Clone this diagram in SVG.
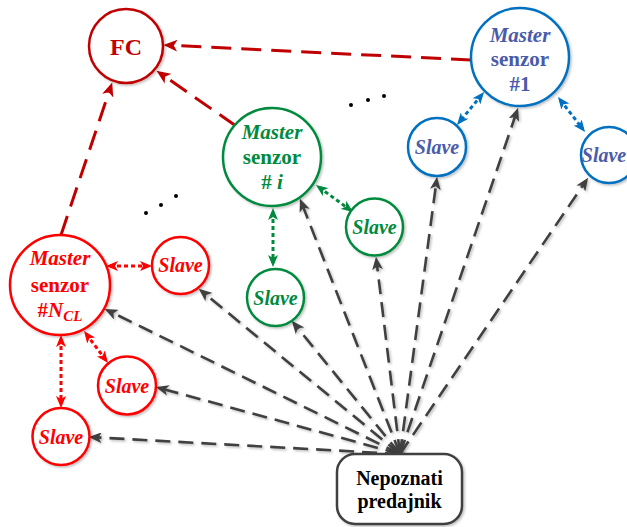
<svg xmlns="http://www.w3.org/2000/svg" width="627" height="527" viewBox="0 0 627 527">
<style>
  text { font-family: "Liberation Serif", "Times New Roman", serif; font-weight: bold; text-anchor: middle; }
  .it { font-style: italic; }
  .node { fill: #fff; stroke-width: 2.5; filter: url(#sh); }
  .blue .node { stroke: #0070C0; }
  .blue text { fill: #4A5BAA; }
  .green .node { stroke: #008A3E; }
  .green text { fill: #008A3E; }
  .red .node { stroke: #FF0000; }
  .red text { fill: #FF0000; }
  .dred .node { stroke: #C00000; }
  .dred text { fill: #C00000; }
  .gray { stroke: #404040; stroke-width: 2.6; stroke-dasharray: 15 8; fill: none; marker-end: url(#ag); filter: url(#sh); }
  .fc { stroke: #C00000; stroke-width: 3; stroke-dasharray: 20 10; fill: none; marker-end: url(#adr); }
  .dot { stroke-width: 3; stroke-dasharray: 4 3; fill: none; }
  .db { stroke: #0070C0; marker-start: url(#ab); marker-end: url(#ab); }
  .dg { stroke: #008A3E; marker-start: url(#agr); marker-end: url(#agr); }
  .dr { stroke: #FF0000; marker-start: url(#ar); marker-end: url(#ar); }
</style>
<defs>
  <filter id="sh" x="-20%" y="-20%" width="140%" height="140%">
    <feDropShadow dx="1.5" dy="1.5" stdDeviation="1" flood-color="#000" flood-opacity="0.25"/>
  </filter>
  <marker id="ag" viewBox="0 0 12 10" refX="8" refY="5" markerWidth="13" markerHeight="11" markerUnits="userSpaceOnUse" orient="auto-start-reverse">
    <path d="M0,0 L12,5 L0,10 L3,5 z" fill="#404040"/>
  </marker>
  <marker id="adr" viewBox="0 0 12 10" refX="8" refY="5" markerWidth="14" markerHeight="12" markerUnits="userSpaceOnUse" orient="auto-start-reverse">
    <path d="M0,0 L12,5 L0,10 L3,5 z" fill="#C00000"/>
  </marker>
  <marker id="ab" viewBox="0 0 12 10" refX="8" refY="5" markerWidth="12" markerHeight="10" markerUnits="userSpaceOnUse" orient="auto-start-reverse">
    <path d="M0,0 L12,5 L0,10 L3,5 z" fill="#0070C0"/>
  </marker>
  <marker id="agr" viewBox="0 0 12 10" refX="8" refY="5" markerWidth="12" markerHeight="10" markerUnits="userSpaceOnUse" orient="auto-start-reverse">
    <path d="M0,0 L12,5 L0,10 L3,5 z" fill="#008A3E"/>
  </marker>
  <marker id="ar" viewBox="0 0 12 10" refX="8" refY="5" markerWidth="12" markerHeight="10" markerUnits="userSpaceOnUse" orient="auto-start-reverse">
    <path d="M0,0 L12,5 L0,10 L3,5 z" fill="#FF0000"/>
  </marker>
</defs>

<g id="connectors">
  <!-- from transmitter -->
  <line class="gray" x1="400" y1="454" x2="93" y2="437.2"/>
  <line class="gray" x1="400" y1="454" x2="159.9" y2="388.1"/>
  <line class="gray" x1="400" y1="454" x2="108.6" y2="310.8"/>
  <line class="gray" x1="400" y1="454" x2="202.1" y2="291.5"/>
  <line class="gray" x1="400" y1="454" x2="294.5" y2="324.1"/>
  <line class="gray" x1="400" y1="454" x2="301.5" y2="202.7"/>
  <line class="gray" x1="400" y1="454" x2="376.5" y2="261"/>
  <line class="gray" x1="400" y1="454" x2="436.5" y2="181"/>
  <line class="gray" x1="400" y1="454" x2="516.7" y2="111.8"/>
  <line class="gray" x1="400" y1="454" x2="585.7" y2="181.3"/>
  <!-- to FC -->
  <line class="fc" x1="471" y1="60" x2="168" y2="45.2"/>
  <line class="fc" x1="236" y1="126" x2="160.3" y2="73.3"/>
  <line class="fc" x1="61" y1="235" x2="110.7" y2="86.8"/>
  <!-- master-slave -->
  <line class="dot db" x1="481.5" y1="95.1" x2="459.5" y2="121.9"/>
  <line class="dot db" x1="560.4" y1="100.2" x2="582.6" y2="128.8"/>
  <line class="dot dg" x1="319.2" y1="187.4" x2="349.8" y2="209.6"/>
  <line class="dot dg" x1="273" y1="212" x2="273" y2="263"/>
  <line class="dot dr" x1="110" y1="266" x2="148" y2="266"/>
  <line class="dot dr" x1="86.4" y1="334.2" x2="105.6" y2="359.8"/>
  <line class="dot dr" x1="61" y1="339" x2="61" y2="404"/>
</g>

<g id="fc" class="dred">
  <circle class="node" cx="126" cy="46" r="37"/>
  <text x="126" y="55" font-size="24">FC</text>
</g>

<g id="master1" class="blue">
  <circle class="node" cx="520" cy="57" r="49"/>
  <text x="520" y="42" font-size="21" class="it">Master</text>
  <text x="520" y="66" font-size="21">senzor</text>
  <text x="520" y="91" font-size="21">#1</text>
</g>
<g id="slave1a" class="blue">
  <circle class="node" cx="437" cy="147" r="29"/>
  <text x="437" y="154" font-size="20" class="it">Slave</text>
</g>
<g id="slave1b" class="blue">
  <circle class="node" cx="609" cy="155" r="28"/>
  <text x="604" y="162" font-size="20" class="it">Slave</text>
</g>

<g id="masteri" class="green">
  <circle class="node" cx="272" cy="157" r="49"/>
  <text x="272" y="139" font-size="21" class="it">Master</text>
  <text x="272" y="164" font-size="21">senzor</text>
  <text x="272" y="189" font-size="21"># <tspan class="it">i</tspan></text>
</g>
<g id="slaveia" class="green">
  <circle class="node" cx="374.5" cy="227" r="28.5"/>
  <text x="374.5" y="234" font-size="20" class="it">Slave</text>
</g>
<g id="slaveib" class="green">
  <circle class="node" cx="275.5" cy="297.5" r="28.5"/>
  <text x="275.5" y="305" font-size="20" class="it">Slave</text>
</g>

<g id="masterN" class="red">
  <circle class="node" cx="60" cy="285" r="50"/>
  <text x="60" y="265" font-size="21" class="it">Master</text>
  <text x="60" y="292" font-size="21">senzor</text>
  <text x="60" y="317" font-size="21">#<tspan class="it">N</tspan><tspan class="it" font-size="15" dy="4">CL</tspan></text>
</g>
<g id="slaveNa" class="red">
  <circle class="node" cx="180.5" cy="265.5" r="28.5"/>
  <text x="180.5" y="272" font-size="20" class="it">Slave</text>
</g>
<g id="slaveNb" class="red">
  <circle class="node" cx="127" cy="385.5" r="29"/>
  <text x="127" y="393" font-size="20" class="it">Slave</text>
</g>
<g id="slaveNc" class="red">
  <circle class="node" cx="61" cy="436.5" r="28.5"/>
  <text x="61" y="444" font-size="20" class="it">Slave</text>
</g>

<g id="transmitter">
  <rect x="337" y="454" width="125" height="70" rx="18" fill="#fff" stroke="#404040" stroke-width="2.5" filter="url(#sh)"/>
  <text x="399.5" y="485" font-size="20" fill="#000">Nepoznati</text>
  <text x="399.5" y="508" font-size="20" fill="#000">predajnik</text>
</g>

<g id="dots" fill="#000">
  <circle cx="351" cy="105" r="2"/>
  <circle cx="368" cy="100" r="2"/>
  <circle cx="384" cy="96" r="2"/>
  <circle cx="146" cy="213" r="2"/>
  <circle cx="161" cy="205" r="2"/>
  <circle cx="176" cy="196" r="2"/>
</g>
</svg>
